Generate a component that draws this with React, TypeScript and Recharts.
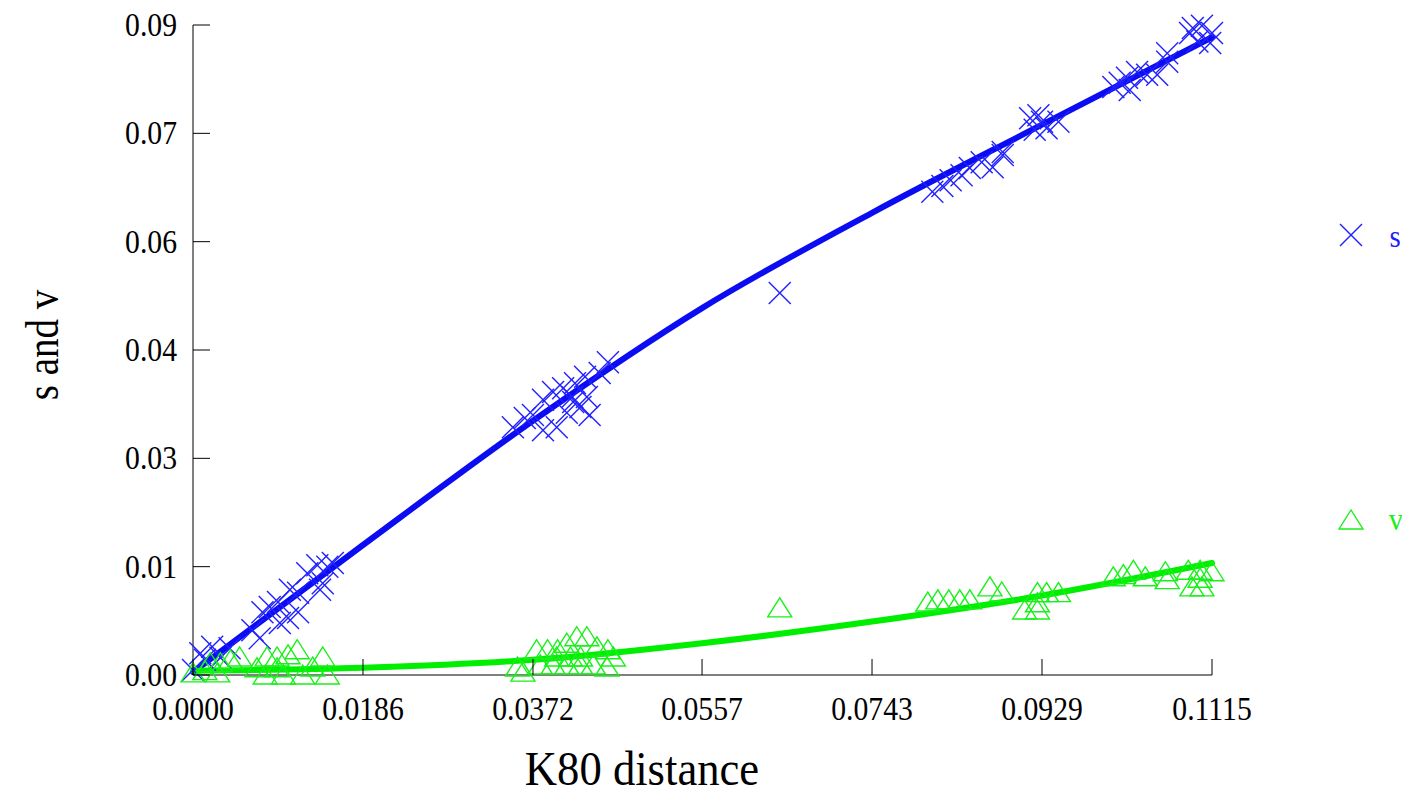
import React from 'react';
import { ComposedChart, Scatter, Line, XAxis, YAxis, Legend } from 'recharts';

// K80 distance vs s / v
const sPoints: [number, number][] = [
  [0.0, 0.0007], [0.0008, 0.003], [0.0013, 0.0021], [0.0021, 0.0039], [0.003, 0.0024], [0.004, 0.0037],
  [0.0065, 0.0062], [0.0073, 0.0051], [0.0076, 0.0087], [0.0084, 0.0094], [0.0093, 0.0101], [0.0095, 0.0072],
  [0.0106, 0.0118], [0.0104, 0.0079], [0.0115, 0.0087], [0.0115, 0.0114], [0.0125, 0.0141], [0.0136, 0.0152],
  [0.0142, 0.0127], [0.0147, 0.015], [0.0153, 0.0155], [0.0139, 0.0118],
  [0.035, 0.0343], [0.0363, 0.0356], [0.0372, 0.036], [0.0383, 0.0381], [0.0394, 0.0392], [0.0398, 0.0343],
  [0.0405, 0.0397], [0.0409, 0.0363], [0.0415, 0.0385], [0.0418, 0.0404], [0.0424, 0.0371], [0.0429, 0.0413],
  [0.0431, 0.0385], [0.0434, 0.036], [0.0454, 0.0433], [0.0445, 0.0418], [0.0416, 0.0378], [0.0383, 0.0339],
  [0.0642, 0.0529],
  [0.0809, 0.0669], [0.082, 0.0677], [0.0829, 0.0685], [0.0841, 0.0692], [0.085, 0.0702], [0.0863, 0.071],
  [0.0875, 0.0703], [0.0886, 0.072], [0.0886, 0.0724],
  [0.0916, 0.0771], [0.0925, 0.0775], [0.0934, 0.0757], [0.0921, 0.0755], [0.0929, 0.0766], [0.0947, 0.0766],
  [0.1007, 0.0814], [0.1014, 0.082], [0.1022, 0.0827], [0.1033, 0.0835], [0.1044, 0.0831], [0.1055, 0.0831],
  [0.1025, 0.081], [0.1066, 0.0849], [0.1066, 0.0861], [0.1091, 0.0889], [0.1099, 0.0877], [0.1104, 0.0899],
  [0.1115, 0.0889], [0.1113, 0.0875], [0.1094, 0.0896],
];

const vPoints: [number, number][] = [
  [0.0, 0.0003], [0.0013, 0.0006], [0.0027, 0.0003], [0.003, 0.0017], [0.0041, 0.0021], [0.0051, 0.0025], [0.0019, 0.0017],
  [0.007, 0.001], [0.0079, 0.0], [0.0081, 0.0025], [0.0092, 0.0025], [0.0092, 0.001], [0.0099, 0.0],
  [0.0104, 0.0028], [0.0114, 0.0035], [0.012, 0.0], [0.0131, 0.0011], [0.0142, 0.0025], [0.0147, 0.0],
  [0.0355, 0.0011], [0.0361, 0.0004], [0.0376, 0.0035], [0.038, 0.0014], [0.0388, 0.0035], [0.0394, 0.0014],
  [0.0398, 0.0025], [0.0399, 0.0035], [0.0409, 0.0044], [0.0409, 0.0014], [0.0413, 0.0025], [0.042, 0.0053],
  [0.0424, 0.0025], [0.0424, 0.0014], [0.0431, 0.0053], [0.0438, 0.0014], [0.0442, 0.0039], [0.0453, 0.0011],
  [0.0454, 0.0035], [0.046, 0.0025],
  [0.0642, 0.0093],
  [0.0804, 0.0101], [0.0815, 0.0104], [0.0827, 0.0104], [0.0839, 0.0104], [0.085, 0.0104], [0.0872, 0.0122],
  [0.0885, 0.0115], [0.091, 0.009], [0.0924, 0.01], [0.0924, 0.009], [0.0924, 0.0114], [0.0934, 0.0114], [0.0947, 0.0114],
  [0.1007, 0.0136], [0.1018, 0.0139], [0.1029, 0.0145], [0.1042, 0.0136], [0.1064, 0.0143], [0.1066, 0.0132],
  [0.1089, 0.0145], [0.1093, 0.0122], [0.1102, 0.0145], [0.1102, 0.0134], [0.1104, 0.0122], [0.1115, 0.0143],
];

// fitted curves
const fitDist = [0, 0.0186, 0.0372, 0.0557, 0.0743, 0.0929, 0.1115];
const sFit = [0.0004, 0.018, 0.0352, 0.0508, 0.064, 0.0762, 0.0883];
const vFit = [0.0006, 0.001, 0.0021, 0.0044, 0.0074, 0.011, 0.0155];

const xTicks = [0, 0.0186, 0.0372, 0.0557, 0.0743, 0.0929, 0.1115];
const yTicks = [0, 0.015, 0.03, 0.045, 0.06, 0.075, 0.09];
const yTickLabels = ['0.00', '0.01', '0.03', '0.04', '0.06', '0.07', '0.09'];

const BLUE = '#2020ff';
const BLUE_LINE = '#0c0cf2';
const GREEN = '#19f019';
const GREEN_LINE = '#00ee00';
const FONT = '"Liberation Serif", "Times New Roman", serif';

const W = 1402;
const H = 789;
const PLOT_LEFT = 185;
const PLOT_RIGHT = 1204;
const PLOT_BOTTOM = 667;

const sData = sPoints.map(([x, y]) => ({ x, y }));
const vData = vPoints.map(([x, y]) => ({ x, y }));
const sFitData = fitDist.map((x, i) => ({ x, y: sFit[i] }));
const vFitData = fitDist.map((x, i) => ({ x, y: vFit[i] }));

const CrossMark = ({ cx, cy, color }: any) => (
  <g stroke={color} strokeWidth={1.4}>
    <line x1={cx - 11} y1={cy - 11} x2={cx + 11} y2={cy + 11} />
    <line x1={cx - 11} y1={cy + 11} x2={cx + 11} y2={cy - 11} />
  </g>
);

const TriMark = ({ cx, cy, color }: any) => (
  <polygon
    points={`${cx},${cy - 10} ${cx - 12},${cy + 9} ${cx + 12},${cy + 9}`}
    fill="none"
    stroke={color}
    strokeWidth={1.4}
  />
);

const YTick = ({ y, payload }: any) => {
  const i = yTicks.indexOf(payload.value);
  return (
    <g>
      <line x1={PLOT_LEFT} x2={PLOT_LEFT + 17} y1={y} y2={y} stroke="#000" />
      <text
        transform={`translate(${PLOT_LEFT - 16},${y + 11}) scale(0.9,1)`}
        textAnchor="end"
        fontFamily={FONT}
        fontSize={33}
        fill="#000"
      >
        {i >= 0 ? yTickLabels[i] : ''}
      </text>
    </g>
  );
};

const XTick = ({ x, payload }: any) => (
  <g>
    <line x1={x} x2={x} y1={PLOT_BOTTOM} y2={PLOT_BOTTOM - 16} stroke="#000" />
    <text
      transform={`translate(${x},${PLOT_BOTTOM + 45}) scale(0.9,1)`}
      textAnchor="middle"
      fontFamily={FONT}
      fontSize={33}
      fill="#000"
    >
      {Number(payload.value).toFixed(4)}
    </text>
  </g>
);

const XLabel = () => (
  <text transform="translate(634,777) scale(0.93,1)" textAnchor="middle" fontFamily={FONT} fontSize={48} fill="#000">
    K80 distance
  </text>
);

const YLabel = () => (
  <text transform="translate(50,337) rotate(-90) scale(0.85,1)" textAnchor="middle" fontFamily={FONT} fontSize={46} fill="#000">
    s and v
  </text>
);

const LegendBox = () => (
  <svg width={100} height={H} style={{ display: 'block', overflow: 'visible' }}>
    <CrossMark cx={43} cy={227} color={BLUE} />
    <text transform="translate(87,239) scale(0.9,1)" textAnchor="middle" fontFamily={FONT} fontSize={32} fill={BLUE}>
      s
    </text>
    <polygon points="43,502 31,521 55,521" fill="none" stroke={GREEN} strokeWidth={1.4} />
    <text transform="translate(88,522) scale(0.9,1)" textAnchor="middle" fontFamily={FONT} fontSize={32} fill={GREEN}>
      v
    </text>
  </svg>
);

export default function App() {
  return (
    <ComposedChart width={W} height={H} margin={{ top: 17, right: W - PLOT_RIGHT, bottom: 12, left: 0 }}>
      <XAxis
        type="number"
        dataKey="x"
        domain={[0, 0.1115]}
        ticks={xTicks}
        interval={0}
        height={110}
        tickLine={false}
        axisLine={{ stroke: '#000' }}
        tick={<XTick />}
        label={<XLabel />}
      />
      <YAxis
        type="number"
        dataKey="y"
        domain={[0, 0.09]}
        ticks={yTicks}
        interval={0}
        width={185}
        tickLine={false}
        axisLine={{ stroke: '#000' }}
        tick={<YTick />}
        label={<YLabel />}
      />
      <Legend
        layout="horizontal"
        verticalAlign="middle"
        align="center"
        wrapperStyle={{ left: 1300, top: 0, width: 100, height: H }}
        content={() => <LegendBox />}
      />
      <Scatter name="s" data={sData} isAnimationActive={false} shape={(p: any) => <CrossMark cx={p.cx} cy={p.cy} color={BLUE} />} />
      <Scatter name="v" data={vData} isAnimationActive={false} shape={(p: any) => <TriMark cx={p.cx} cy={p.cy} color={GREEN} />} />
      <Line
        data={sFitData}
        dataKey="y"
        type="monotone"
        stroke={BLUE_LINE}
        strokeWidth={6}
        strokeLinecap="round"
        dot={false}
        activeDot={false}
        legendType="none"
        isAnimationActive={false}
      />
      <Line
        data={vFitData}
        dataKey="y"
        type="monotone"
        stroke={GREEN_LINE}
        strokeWidth={6}
        strokeLinecap="round"
        dot={false}
        activeDot={false}
        legendType="none"
        isAnimationActive={false}
      />
    </ComposedChart>
  );
}
